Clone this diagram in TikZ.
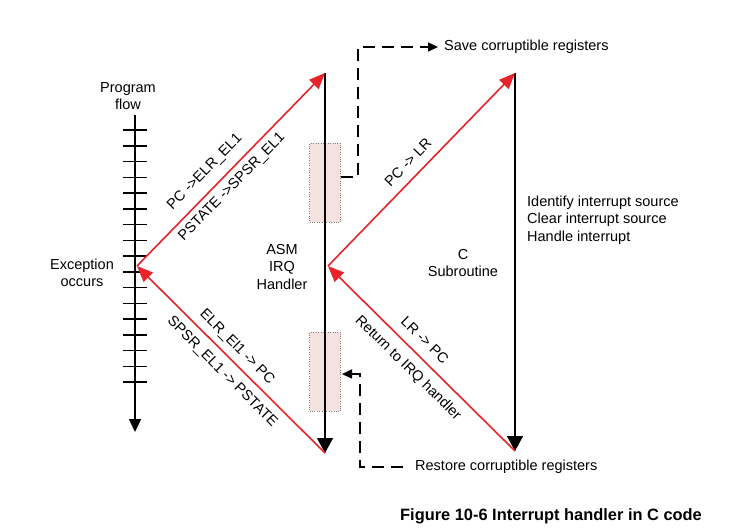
\documentclass[tikz,border=0pt]{standalone}
\usepackage{fontspec}
\setmainfont{Liberation Sans}
\usetikzlibrary{arrows.meta}
\definecolor{arrred}{HTML}{E8232A}
\definecolor{boxpink}{HTML}{F3E2E0}
\begin{document}
\begin{tikzpicture}[x=1pt,y=-1pt,
  txt/.style={font=\fontsize{14.5}{17.5}\selectfont, align=center, inner sep=0pt},
  ltxt/.style={font=\fontsize{14.5}{17.5}\selectfont, align=left, inner sep=0pt, anchor=west},
  flowline/.style={line width=1.5pt, -{Triangle[length=13pt,width=12pt]}},
  bigline/.style={line width=1.6pt, -{Triangle[length=15pt,width=16pt]}},
  redarr/.style={color=arrred, line width=1.6pt, -{Triangle[length=16pt,width=13pt]}},
  dashline/.style={line width=1.6pt, dash pattern=on 12pt off 7pt, -{Triangle[length=10pt,width=9pt]}},
  regbox/.style={draw=gray, dotted, fill=boxpink, minimum width=31pt, minimum height=79pt, inner sep=0pt},
  tick/.style={line width=1.5pt}
]
\useasboundingbox (0,0) rectangle (745,531);

% program flow axis
\coordinate (pftop) at (135,115);
\coordinate (pfbot) at (135,432);
\draw[flowline] (pftop) -- (pfbot);
\foreach \i in {0,...,16}{
  \draw[tick] (123,{130+\i*15.75}) -- (147,{130+\i*15.75});
}
\node[txt] (pflabel) at (128,96) {Program\\flow};
\node[txt] (exclabel) at (82,273) {Exception\\occurs};

% key points
\coordinate (exc) at (137,266);
\coordinate (asmtop) at (325,73);
\coordinate (asmbot) at (325,453);
\coordinate (mid) at (328,266);
\coordinate (ctop) at (515,73);
\coordinate (cbot) at (515,451);

% register boxes
\node[regbox] (box1) at (325,182.5) {};
\node[regbox] (box2) at (325,371.5) {};

% vertical handler lines
\draw[bigline] (asmtop) -- (asmbot);
\draw[bigline] (ctop) -- (cbot);

% red arrows
\draw[redarr] (exc) -- (asmtop);
\draw[redarr] (asmbot) -- (exc);
\draw[redarr] (mid) -- (ctop);
\draw[redarr] (cbot) -- (mid);

% labels on red arrows
\node[txt, rotate=45.5] (l1) at (205,172) {PC ->ELR\_EL1};
\node[txt, rotate=45.5] (l2) at (232,187) {PSTATE ->SPSR\_EL1};
\node[txt, rotate=-45] (l3) at (237,347) {ELR\_El1 -> PC};
\node[txt, rotate=-45] (l4) at (222,372) {SPSR\_EL1 -> PSTATE};
\node[txt, rotate=46] (l5) at (408,162) {PC -> LR};
\node[txt, rotate=-44.5] (l6) at (425,340) {LR -> PC};
\node[txt, rotate=-44.5] (l7) at (408,368) {Return to IRQ handler};

% region labels
\node[txt] (asmlabel) at (282,267) {ASM\\IRQ\\Handler};
\node[txt] (clabel) at (463,263) {C\\Subroutine};
\node[ltxt] (todo) at (527,220) {Identify interrupt source\\Clear interrupt source\\Handle interrupt};

% save / restore
\node[ltxt] (save) at (444,47) {Save corruptible registers};
\node[ltxt] (restore) at (415,467) {Restore corruptible registers};
\coordinate (s1) at (341,177);
\coordinate (r1) at (342,374);
\draw[dashline] (s1) -- (358,177) -- (358,47) -- ([xshift=-6pt]save.west);
\draw[dashline] ([xshift=-12pt]restore.west) -- (360,467) -- (360,374) -- (r1);

% caption
\node[font=\bfseries\fontsize{16.4}{19}\selectfont, inner sep=0pt] (caption) at (551,516) {Figure 10-6 Interrupt handler in C code};
\end{tikzpicture}
\end{document}
